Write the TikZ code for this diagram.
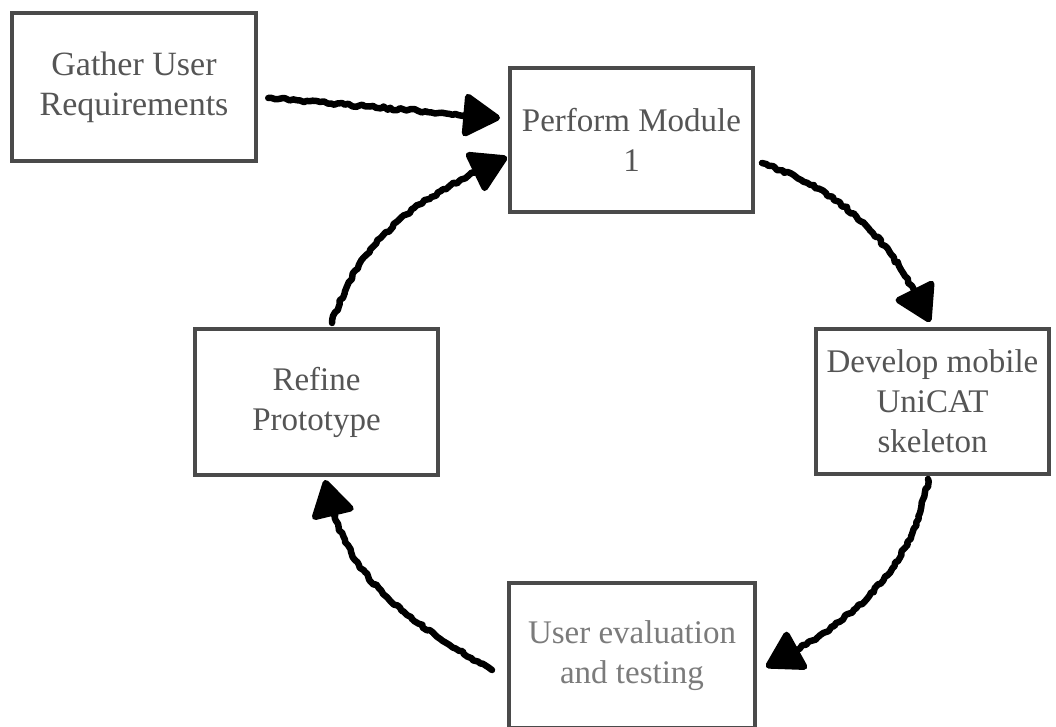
\documentclass[tikz,border=0pt]{standalone}
\usepackage{fontspec}
\setmainfont{Liberation Serif}
\usetikzlibrary{arrows.meta,decorations.pathmorphing}
\definecolor{boxline}{HTML}{4A4A4A}
\definecolor{boxtext}{HTML}{555555}
\definecolor{softtext}{HTML}{7B7B7B}
\pgfmathsetseed{7}
\begin{document}
\begin{tikzpicture}[x=1pt,y=1pt,
  stage/.style={draw=boxline, line width=4pt, fill=white, align=center,
    text=boxtext, font=\fontsize{33}{40}\selectfont, inner sep=0pt},
  sketch/.style={line width=6.5pt, black, line cap=round, line join=round,
    decorate, decoration={random steps, segment length=3.5pt, amplitude=1.4pt,
    post length=30pt}, -{Triangle[length=40pt,width=46pt,round]}}]
\useasboundingbox (0,0) rectangle (1056,726);
\clip (0,0) rectangle (1056,726);

% stages of the cycle
\node[stage, minimum width=244pt, minimum height=148pt, line width=4.5pt,
  font=\fontsize{34}{40}\selectfont] (gather) at (134,639) {Gather User\\Requirements};
\node[stage, minimum width=243pt, minimum height=144pt] (perform) at (631.5,586) {Perform Module\\1};
\node[stage, minimum width=233pt, minimum height=145pt] (develop) at (932.5,324.5) {Develop mobile\\UniCAT\\skeleton};
\node[stage, minimum width=243pt, minimum height=146pt] (refine) at (316.5,324) {Refine\\Prototype};
\node[stage, minimum width=246pt, minimum height=145pt, text=softtext] (user) at (632,70.5) {User evaluation\\and testing};

% hand-drawn connectors
\draw[sketch] ([shift={(10,-11)}]gather.east) -- ([shift={(-8,22)}]perform.west);
\draw[sketch] ([shift={(15.5,4)}]refine.north) to[out=72,in=205] ([shift={(-1,-17)}]perform.west);
\draw[sketch] ([shift={(7,-23)}]perform.east) to[out=-20,in=115] ([shift={(-2.5,5)}]develop.north);
\draw[sketch] ([shift={(-4.5,-3)}]develop.south) to[out=-100,in=28] ([shift={(9,-11.5)}]user.east);
\draw[sketch] ([shift={(-15,-14.5)}]user.west) to[out=150,in=-80] ([shift={(8.5,-3)}]refine.south);
\end{tikzpicture}
\end{document}
